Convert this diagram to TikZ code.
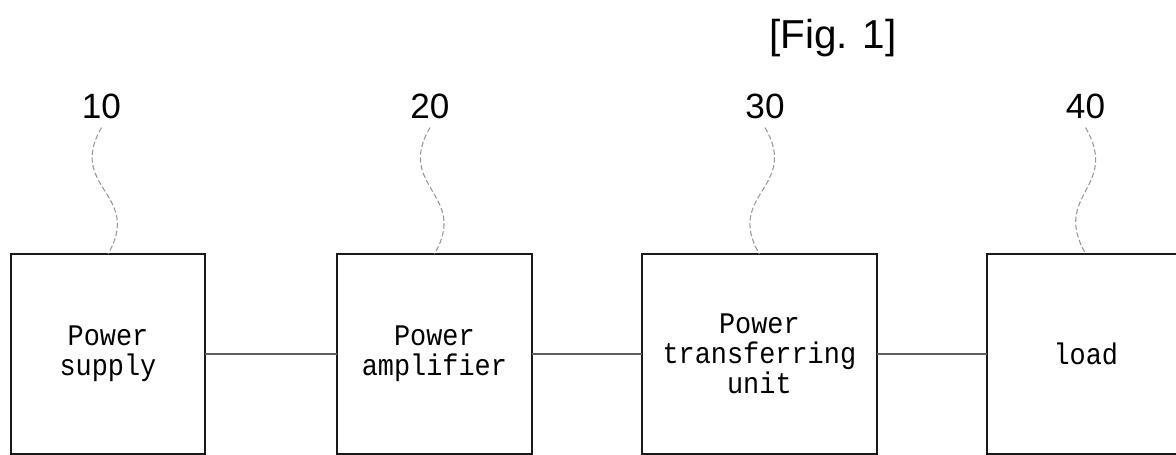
\documentclass[tikz,border=0pt]{standalone}
\usepackage{fontspec}
\setmainfont{Liberation Sans}
\newfontfamily\monofont[FakeStretch=0.9]{Liberation Mono}
\usetikzlibrary{positioning}
\definecolor{BoxLine}{RGB}{25,25,25}
\definecolor{WireGray}{RGB}{95,95,95}
\definecolor{LeadGray}{RGB}{150,150,150}
\tikzset{
  blk/.style    ={rectangle, draw=BoxLine, line width=1.3pt, outer sep=0pt,
                  minimum height=4cm, align=center, inner sep=0pt,
                  font=\monofont\fontsize{17}{17}\selectfont},
  refnum/.style ={font=\fontsize{20}{22}\selectfont, inner sep=5pt},
  wire/.style   ={draw=WireGray, line width=.7pt},
  lead/.style   ={draw=LeadGray, line width=.6pt, dash pattern=on 3pt off 1.5pt},
}
\begin{document}
\begin{tikzpicture}[x=0.02cm, y=-0.02cm]
  \useasboundingbox (0,0) rectangle (1176,454);
  \clip (0,0) rectangle (1176,454);
  \node[font=\fontsize{23}{26}\selectfont] (fig) at (833,38) {[Fig. 1]};
  \node[blk,minimum width=3.88cm] (b1) at (108,354) {Power\\supply};
  \node[blk,minimum width=3.9cm,right=2.64cm of b1] (b2) {Power\\amplifier};
  \node[blk,minimum width=4.7cm,right=2.2cm of b2] (b3) {Power\\transferring\\unit};
  \node[blk,minimum width=3.96cm,right=2.2cm of b3] (b4) {load};
  \node[refnum] (n10) at (101.5,106) {10};
  \node[refnum] (n20) at (430,106) {20};
  \node[refnum] (n30) at (765,106) {30};
  \node[refnum] (n40) at (1085.5,106) {40};
  \foreach \a/\b in {b1/b2,b2/b3,b3/b4}{\draw[wire] (\a) -- (\b);}
  \foreach \n/\b/\s in {n10/b1/1,n20/b2/1,n30/b3/-1,n40/b4/-1}{
    \draw[lead] (\n.south) .. controls +(-35*\s,60) and +(35*\s,-60) .. (\b.north);}
\end{tikzpicture}
\end{document}
